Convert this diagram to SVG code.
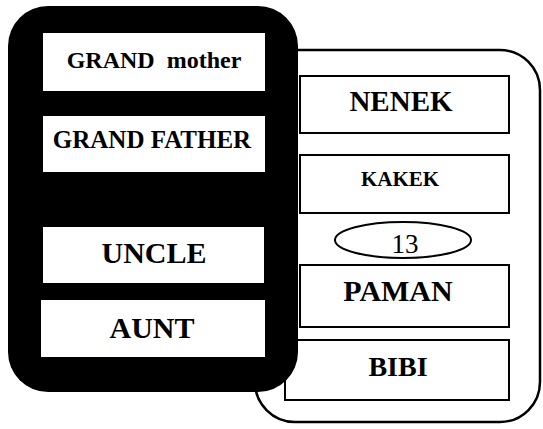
<svg xmlns="http://www.w3.org/2000/svg" width="543" height="429" viewBox="0 0 543 429">
<style>
.box{fill:#fff;stroke:#000;stroke-width:2}
.wbox{fill:#fff;stroke:none}
.t{font-family:"Liberation Serif","Times New Roman",serif;font-weight:bold;text-anchor:middle;fill:#000}
.n{font-family:"Liberation Serif","Times New Roman",serif;text-anchor:middle;fill:#000}
</style>
<rect x="0" y="0" width="543" height="429" fill="#fff"/>
<g id="indonesian-panel">
<rect x="255" y="50" width="285" height="372" rx="40" ry="40" fill="#fff" stroke="#000" stroke-width="2.5"/>
</g>
<g id="nenek"><rect class="box" x="300" y="76" width="209" height="57"/><text class="t" x="401" y="111" font-size="29">NENEK</text></g>
<g id="kakek"><rect class="box" x="300" y="155" width="209" height="58"/><text class="t" x="400" y="186" font-size="21">KAKEK</text></g>
<g id="page13"><ellipse cx="403" cy="240" rx="68" ry="18" fill="#fff" stroke="#000" stroke-width="2"/><text class="n" x="405" y="253" font-size="27">13</text></g>
<g id="paman"><rect class="box" x="300" y="265" width="209" height="62"/><text class="t" x="398" y="301" font-size="30">PAMAN</text></g>
<g id="bibi"><rect class="box" x="285" y="340" width="224" height="60"/><text class="t" x="398" y="376" font-size="28">BIBI</text></g>
<g id="english-panel">
<rect x="8" y="6" width="290" height="386" rx="40" ry="40" fill="#000"/>
</g>
<g id="grand-mother"><rect class="wbox" x="43" y="33" width="222" height="58"/><text class="t" x="154" y="68" font-size="24" xml:space="preserve">GRAND  mother</text></g>
<g id="grand-father"><rect class="wbox" x="43" y="116" width="222" height="56"/><text class="t" x="152" y="148" font-size="25">GRAND FATHER</text></g>
<g id="uncle"><rect class="wbox" x="43" y="227" width="221" height="56"/><text class="t" x="154" y="263" font-size="30">UNCLE</text></g>
<g id="aunt"><rect class="wbox" x="41" y="300" width="224" height="57"/><text class="t" x="152" y="338" font-size="30">AUNT</text></g>
</svg>
